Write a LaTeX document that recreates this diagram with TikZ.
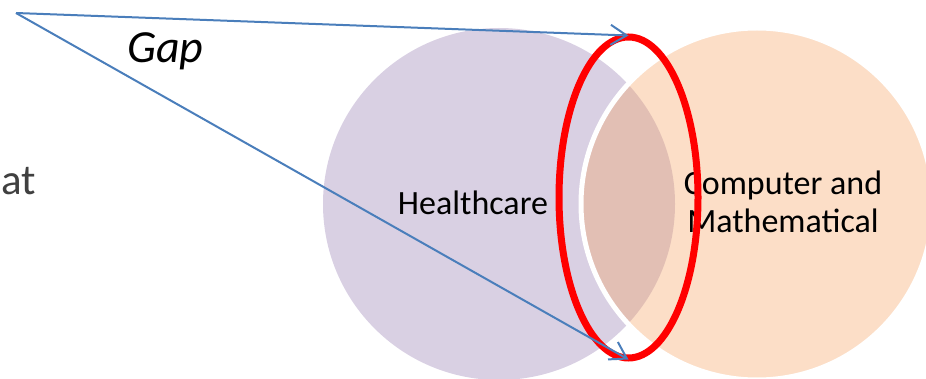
\documentclass[tikz,border=0pt]{standalone}
\usepackage{fontspec}
\setmainfont{Carlito}
\usetikzlibrary{shapes.geometric,arrows.meta}
\definecolor{hcpurple}{RGB}{217,208,227}
\definecolor{cmorange}{RGB}{245,160,95}
\definecolor{arrowblue}{RGB}{74,126,187}
\definecolor{textgray}{RGB}{64,64,64}
\begin{document}
\begin{tikzpicture}[x=1pt,y=-1pt,
 venn/.style={circle, minimum size=352pt, inner sep=0pt, outer sep=0pt},
 vennlabel/.style={font=\fontsize{34}{38}\selectfont, text=black, inner sep=0pt, anchor=base},
 gaparrow/.style={draw=arrowblue, line width=2pt, -{Straight Barb[length=16pt,width=20pt,line width=2pt]}}
]
\useasboundingbox (0,0) rectangle (926,379);
\clip (0,0) rectangle (926,379);
\node[venn, fill=hcpurple] (health) at (499,204) {};
\node[venn, fill=cmorange, fill opacity=0.35, draw=white, line width=5pt] (comp) at (757,204) {};
\node[vennlabel] (hlabel) at (473,215) {Healthcare};
\node[vennlabel] (clabel1) at (783,195) {Computer and};
\node[vennlabel] (clabel2) at (783,233) {Mathematical};
\node[font=\fontsize{46}{50}\selectfont\itshape, inner sep=0pt, anchor=base west] (gaptext) at (127,63) {Gap};
\node[font=\fontsize{43}{47}\selectfont, text=textgray, inner sep=0pt, anchor=base west] (attext) at (1,195) {at};
\node[ellipse, draw=red, line width=7pt, minimum width=139pt, minimum height=321pt, inner sep=0pt, outer sep=1.5pt] (gapring) at (628.5,197.5) {};
\coordinate (src) at (16,13);
\draw[gaparrow] (src) -- (gapring.north);
\draw[gaparrow] (src) -- (gapring.south);
\end{tikzpicture}
\end{document}
